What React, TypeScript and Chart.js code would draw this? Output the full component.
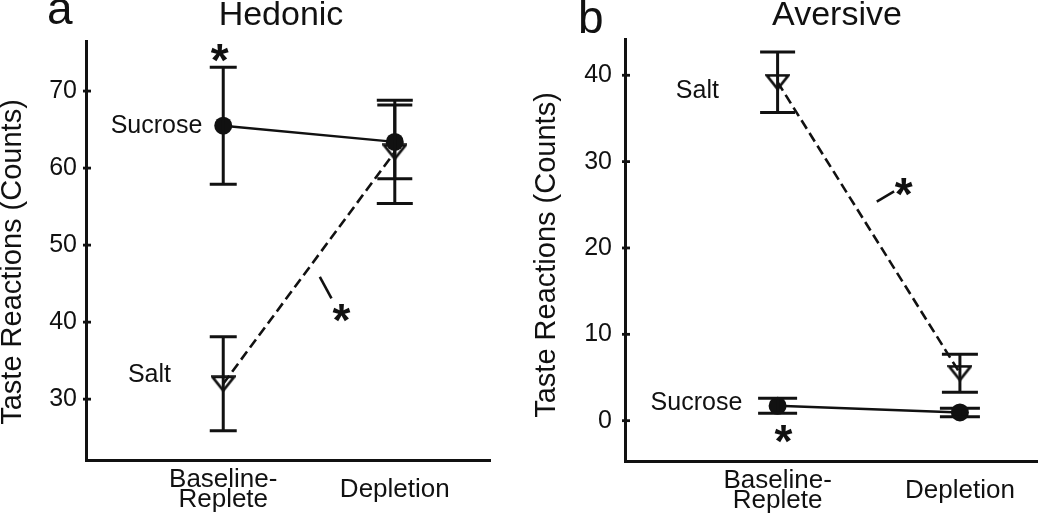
import React, { useEffect, useRef } from "react";
import { Chart, registerables } from "chart.js";

Chart.register(...registerables);

// ---------- data ----------
const categories: string[][] = [["Baseline-", "Replete"], ["Depletion"]];
const categoryPositions = [1, 2];

const hedonicSucrose = [65.5, 63.4];
const hedonicSucroseErr = [7.6, 4.8];
const hedonicSalt = [32.0, 62.1];
const hedonicSaltErr = [6.1, 6.7];
const hedonicTicks = [30, 40, 50, 60, 70];

const aversiveSucrose = [1.72, 0.95];
const aversiveSucroseErr = [0.87, 0.49];
const aversiveSalt = [39.2, 5.5];
const aversiveSaltErr = [3.5, 2.2];
const aversiveTicks = [0, 10, 20, 30, 40];

const FONT = "'Liberation Sans', Arial, Helvetica, sans-serif";
const INK = "#111";

type Annot =
  | { kind: "text"; text: string; x: number; y: number; size: number; bold?: boolean }
  | { kind: "seg"; x1: number; y1: number; x2: number; y2: number };

interface PanelCfg {
  letter: string;
  letterX: number;
  letterY: number;
  title: string;
  titleX: number;
  titleY: number;
  axisTitleX: number;
  axisTitleY: number;
  yMin: number;
  yMax: number;
  xMin: number;
  xMax: number;
  yTicks: number[];
  sucrose: number[];
  sucroseErr: number[];
  salt: number[];
  saltErr: number[];
  sucroseCap: number[];
  saltCap: number[];
  padTop: number;
  padRight: number;
  yWidth: number;
  xHeight: number;
  tickPad: number;
  annotations: Annot[];
}

const panels: PanelCfg[] = [
  {
    letter: "a",
    letterX: 47,
    letterY: 24,
    title: "Hedonic",
    titleX: 281,
    titleY: 25,
    axisTitleX: 13,
    axisTitleY: 262,
    yMin: 22.1,
    yMax: 76.5,
    xMin: 0.2,
    xMax: 2.555,
    yTicks: hedonicTicks,
    sucrose: hedonicSucrose,
    sucroseErr: hedonicSucroseErr,
    salt: hedonicSalt,
    saltErr: hedonicSaltErr,
    sucroseCap: [13.5, 17.5],
    saltCap: [13.5, 18],
    padTop: 41,
    padRight: 35,
    yWidth: 86,
    xHeight: 53,
    tickPad: 9,
    annotations: [
      { kind: "text", text: "Sucrose", x: 0.611, y: 65.69, size: 25 },
      { kind: "text", text: "Salt", x: 0.57, y: 33.44, size: 25 },
      { kind: "text", text: "*", x: 0.98, y: 74.9, size: 46, bold: true },
      { kind: "text", text: "*", x: 1.689, y: 41.13, size: 46, bold: true },
      { kind: "seg", x1: 1.563, y1: 45.88, x2: 1.631, y2: 43.07 },
    ],
  },
  {
    letter: "b",
    letterX: 53,
    letterY: 33,
    title: "Aversive",
    titleX: 312,
    titleY: 25,
    axisTitleX: 22,
    axisTitleY: 255,
    yMin: -4.67,
    yMax: 44.2,
    xMin: 0.163,
    xMax: 2.425,
    yTicks: aversiveTicks,
    sucrose: aversiveSucrose,
    sucroseErr: aversiveSucroseErr,
    salt: aversiveSalt,
    saltErr: aversiveSaltErr,
    sucroseCap: [19.5, 20],
    saltCap: [17.5, 18],
    padTop: 39,
    padRight: 2,
    yWidth: 100,
    xHeight: 52,
    tickPad: 13,
    annotations: [
      { kind: "text", text: "Salt", x: 0.56, y: 38.47, size: 25 },
      { kind: "text", text: "Sucrose", x: 0.555, y: 2.31, size: 25 },
      { kind: "text", text: "*", x: 1.032, y: -1.54, size: 46, bold: true },
      { kind: "text", text: "*", x: 1.691, y: 27.1, size: 46, bold: true },
      { kind: "seg", x1: 1.544, y1: 25.38, x2: 1.639, y2: 26.54 },
    ],
  },
];

function makeTriangle(): HTMLCanvasElement {
  const c = document.createElement("canvas");
  c.width = 25;
  c.height = 17;
  const g = c.getContext("2d")!;
  g.beginPath();
  g.moveTo(1.6, 1.6);
  g.lineTo(23.4, 1.6);
  g.lineTo(12.5, 15.4);
  g.closePath();
  g.lineWidth = 2.6;
  g.strokeStyle = INK;
  g.lineJoin = "miter";
  g.stroke();
  return c;
}

const overlayPlugin = {
  id: "overlay",
  afterDatasetsDraw(chart: any) {
    const { ctx, scales } = chart;
    const x = scales.x;
    const y = scales.y;
    ctx.save();
    ctx.strokeStyle = INK;
    ctx.lineWidth = 3;
    chart.data.datasets.forEach((ds: any) => {
      ds.data.forEach((p: any, i: number) => {
        const px = x.getPixelForValue(p.x);
        const top = y.getPixelForValue(p.y + ds.errors[i]);
        const bot = y.getPixelForValue(p.y - ds.errors[i]);
        const cap = ds.caps[i];
        ctx.beginPath();
        ctx.moveTo(px, top);
        ctx.lineTo(px, bot);
        ctx.moveTo(px - cap, top);
        ctx.lineTo(px + cap, top);
        ctx.moveTo(px - cap, bot);
        ctx.lineTo(px + cap, bot);
        ctx.stroke();
      });
    });
    ctx.restore();
  },
  afterDraw(chart: any) {
    const { ctx, scales, chartArea } = chart;
    const x = scales.x;
    const y = scales.y;
    const cfg: PanelCfg = chart.options.plugins.overlay.panel;
    ctx.save();
    // y tick marks crossing the axis
    ctx.strokeStyle = INK;
    ctx.lineWidth = 2.8;
    y.ticks.forEach((t: any) => {
      const py = y.getPixelForValue(t.value);
      ctx.beginPath();
      ctx.moveTo(chartArea.left - 3, py);
      ctx.lineTo(chartArea.left + 5, py);
      ctx.stroke();
    });
    ctx.fillStyle = INK;
    // panel letter
    ctx.font = `46px ${FONT}`;
    ctx.textAlign = "left";
    ctx.textBaseline = "alphabetic";
    ctx.fillText(cfg.letter, cfg.letterX, cfg.letterY);
    // panel title
    ctx.font = `34px ${FONT}`;
    ctx.textAlign = "center";
    ctx.fillText(cfg.title, cfg.titleX, cfg.titleY);
    // axis title
    ctx.save();
    ctx.translate(cfg.axisTitleX, cfg.axisTitleY);
    ctx.rotate(-Math.PI / 2);
    ctx.font = `29px ${FONT}`;
    ctx.textAlign = "center";
    ctx.textBaseline = "middle";
    ctx.fillText("Taste Reactions (Counts)", 0, 0);
    ctx.restore();
    // annotations
    cfg.annotations.forEach((a) => {
      if (a.kind === "seg") {
        ctx.lineWidth = 2.6;
        ctx.beginPath();
        ctx.moveTo(x.getPixelForValue(a.x1), y.getPixelForValue(a.y1));
        ctx.lineTo(x.getPixelForValue(a.x2), y.getPixelForValue(a.y2));
        ctx.stroke();
      } else {
        ctx.font = `${a.bold ? "bold " : ""}${a.size}px ${FONT}`;
        ctx.textAlign = "center";
        ctx.textBaseline = "alphabetic";
        const m = ctx.measureText(a.text);
        const cx = x.getPixelForValue(a.x);
        const cy = y.getPixelForValue(a.y);
        const off = (m.actualBoundingBoxAscent - m.actualBoundingBoxDescent) / 2;
        ctx.fillText(a.text, cx, cy + off);
      }
    });
    ctx.restore();
  },
};

function Panel({ cfg }: { cfg: PanelCfg }) {
  const ref = useRef<HTMLCanvasElement>(null);
  useEffect(() => {
    if (!ref.current) return;
    const tri = makeTriangle();
    const toPts = (vals: number[]) => vals.map((v, i) => ({ x: categoryPositions[i], y: v }));
    const chart = new Chart(ref.current, {
      type: "line",
      data: {
        datasets: [
          {
            label: "Sucrose",
            data: toPts(cfg.sucrose),
            errors: cfg.sucroseErr,
            caps: cfg.sucroseCap,
            borderColor: INK,
            borderWidth: 2.4,
            backgroundColor: INK,
            pointStyle: "circle",
            pointRadius: 9,
            pointBackgroundColor: INK,
            pointBorderColor: INK,
            pointBorderWidth: 0,
            tension: 0,
          } as any,
          {
            label: "Salt",
            data: toPts(cfg.salt),
            errors: cfg.saltErr,
            caps: cfg.saltCap,
            borderColor: INK,
            borderWidth: 2.6,
            borderDash: [10, 5],
            pointStyle: tri,
            pointRadius: 10,
            tension: 0,
          } as any,
        ],
      },
      options: {
        animation: false,
        responsive: false,
        devicePixelRatio: 1,
        layout: { padding: { top: cfg.padTop, right: cfg.padRight, left: 0, bottom: 0 } },
        plugins: {
          legend: { display: false },
          tooltip: { enabled: false },
          title: { display: false },
          overlay: { panel: cfg },
        } as any,
        scales: {
          x: {
            type: "linear",
            min: cfg.xMin,
            max: cfg.xMax,
            grid: { display: false, drawTicks: false },
            border: { display: true, color: INK, width: 3 },
            afterBuildTicks: (s: any) => {
              s.ticks = categoryPositions.map((v) => ({ value: v }));
            },
            afterFit: (s: any) => {
              s.height = cfg.xHeight;
            },
            ticks: {
              color: INK,
              padding: 20,
              maxRotation: 0,
              autoSkip: false,
              crossAlign: "center",
              font: { family: FONT, size: 26, lineHeight: 0.75 },
              callback: (v: any) => {
                const i = categoryPositions.indexOf(Number(v));
                return i >= 0 ? categories[i] : "";
              },
            },
          },
          y: {
            type: "linear",
            min: cfg.yMin,
            max: cfg.yMax,
            grid: { display: false, drawTicks: false },
            border: { display: true, color: INK, width: 3 },
            afterBuildTicks: (s: any) => {
              s.ticks = cfg.yTicks.map((v) => ({ value: v }));
            },
            afterFit: (s: any) => {
              s.width = cfg.yWidth;
            },
            ticks: {
              color: INK,
              padding: cfg.tickPad,
              font: { family: FONT, size: 25 },
            },
          },
        },
      } as any,
      plugins: [overlayPlugin as any],
    });
    return () => chart.destroy();
  }, [cfg]);
  return <canvas ref={ref} width={525} height={513} style={{ display: "block", width: 525, height: 513 }} />;
}

export default function App() {
  return (
    <div style={{ position: "fixed", left: 0, top: 0, width: 1050, height: 513, background: "#fff", overflow: "hidden" }}>
      <div style={{ position: "absolute", left: 0, top: 0 }}>
        <Panel cfg={panels[0]} />
      </div>
      <div style={{ position: "absolute", left: 525, top: 0 }}>
        <Panel cfg={panels[1]} />
      </div>
    </div>
  );
}
